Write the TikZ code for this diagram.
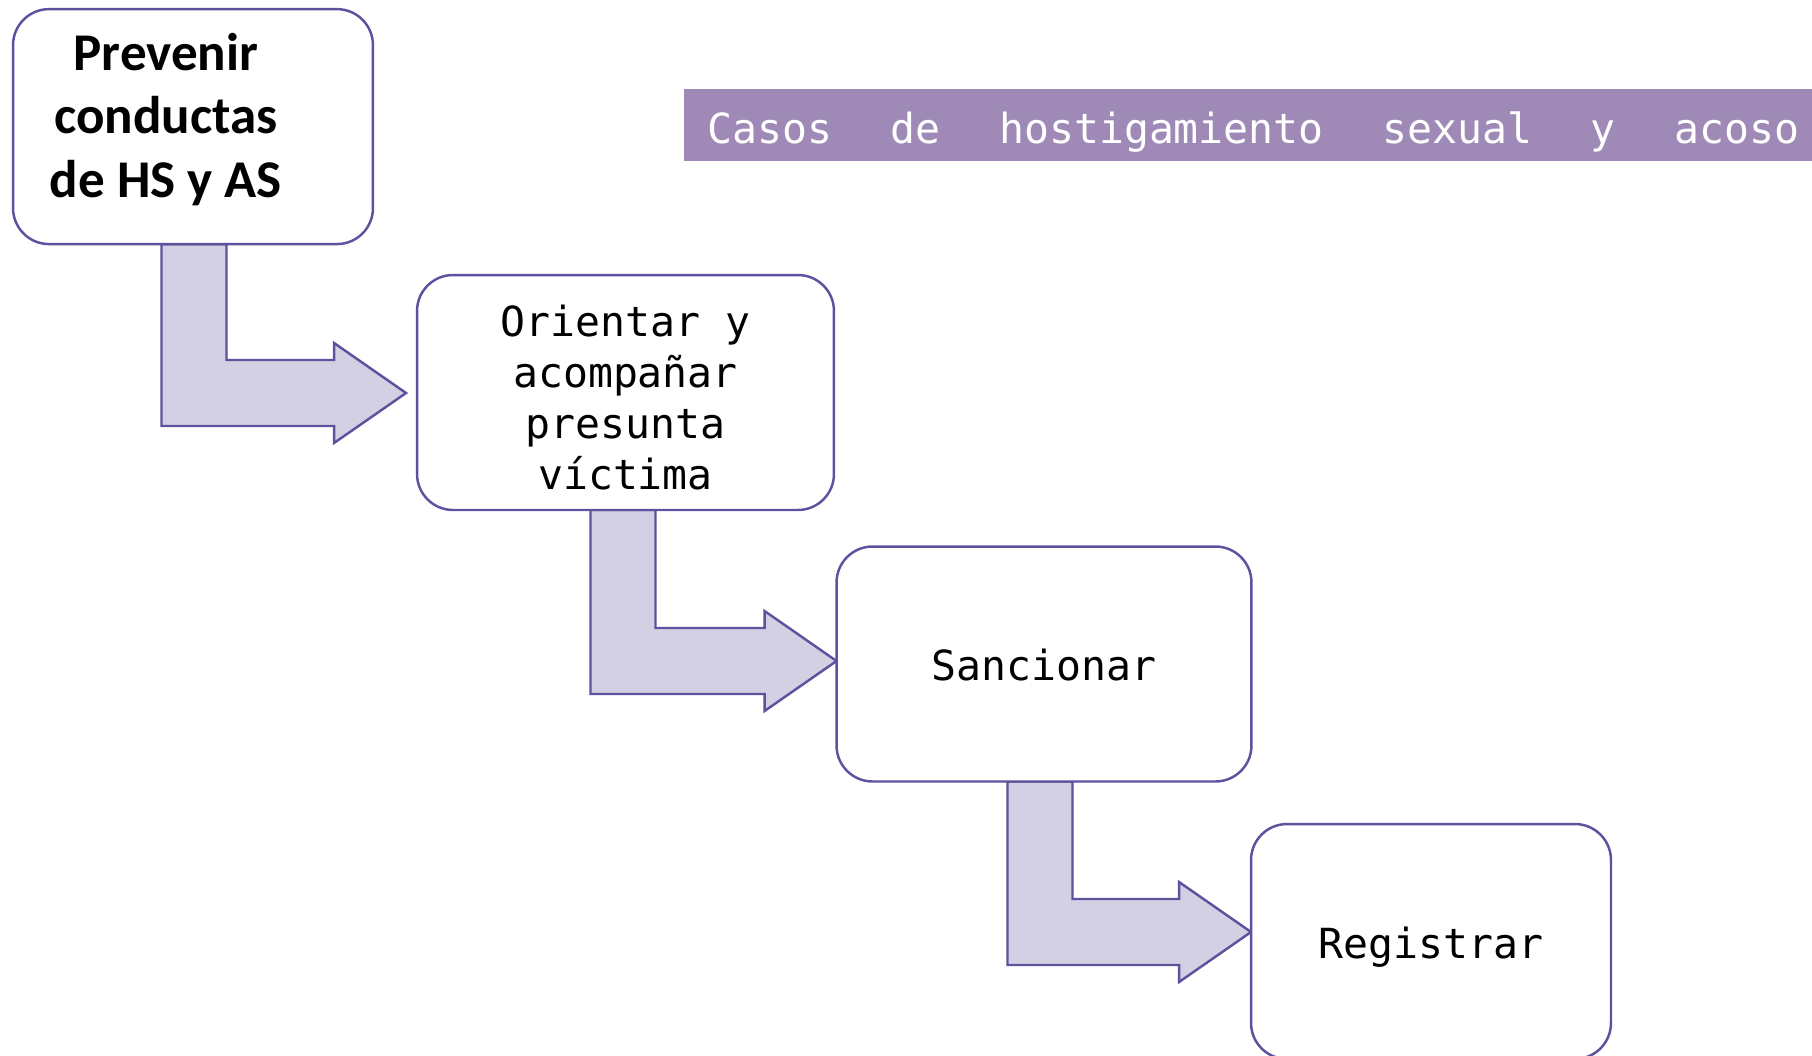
\documentclass[tikz,border=0pt]{standalone}
\usepackage{fontspec}
\setmainfont{Carlito}
\newfontfamily\monofont{DejaVu Sans Mono}
\usetikzlibrary{calc,backgrounds}
\definecolor{boxline}{HTML}{5F519E}
\definecolor{arrowfill}{HTML}{D4D0E4}
\definecolor{bannerfill}{HTML}{9F8AB7}
\begin{document}
\begin{tikzpicture}[x=0.02cm,y=-0.02cm,
  procbox/.style={draw=boxline, line width=1.4pt, fill=white, rounded corners=0.72cm,
    minimum width=#1, minimum height=4.7cm, inner sep=0pt, outer sep=0pt,
    font=\monofont\fontsize{23.6}{29}\selectfont, align=center},
  bentarrow/.style={draw=boxline, line width=1.4pt, fill=arrowfill, line join=miter},
  titletext/.style={font=\bfseries\fontsize{30.2}{36.2}\selectfont, align=center, inner sep=0pt},
  bannertext/.style={font=\monofont\fontsize{23.6}{29}\selectfont, text=white, inner sep=0pt, anchor=base west}]
\useasboundingbox (0,0) rectangle (1812,1055);

% banner
\fill[bannerfill] (684,89) rectangle (1812,161);
\node[bannertext] (banner) at (707,143) {\hbox to 21.84cm{Casos\hfill de\hfill hostigamiento\hfill sexual\hfill y\hfill acoso}};

% boxes
\node[procbox=7.2cm] (b1) at (193,126.6) {};
\node[titletext] (b1t) at (166,119.5) {Prevenir\\conductas\\de HS y AS};
\node[procbox=8.34cm] (b2) at (625.5,392.5) {\raisebox{-0.2cm}[\height][\depth]{\begin{tabular}{@{}c@{}}Orientar y\\acompañar\\presunta\\víctima\end{tabular}}};
\node[procbox=8.3cm] (b3) at (1044,664) {\raisebox{-0.02cm}[\height][\depth]{Sancionar}};
\node[procbox=7.2cm] (b4) at (1431,941.5) {\raisebox{-0.12cm}[\height][\depth]{Registrar}};

% arrow tips
\coordinate (t1) at ($(b2.west)+(-11,0.5)$);
\coordinate (t2) at ($(b3.west)+(0,-3)$);
\coordinate (t3) at ($(b4.west)+(0,-9.5)$);

\begin{scope}[on background layer]
\foreach \s/\t/\d in {b1/t1/1, b2/t2/-2.5, b3/t3/-4}{
  \draw[bentarrow]
    ($(\s.south)+(-32.5+\d,0)$) --
    ($(\s.south |- \t)+(-32.5+\d,33)$) --
    ($(\t)+(-72,33)$) --
    ($(\t)+(-72,50)$) --
    (\t) --
    ($(\t)+(-72,-50)$) --
    ($(\t)+(-72,-33)$) --
    ($(\s.south |- \t)+(32.5+\d,-33)$) --
    ($(\s.south)+(32.5+\d,0)$) -- cycle;
}
\end{scope}
\end{tikzpicture}
\end{document}
